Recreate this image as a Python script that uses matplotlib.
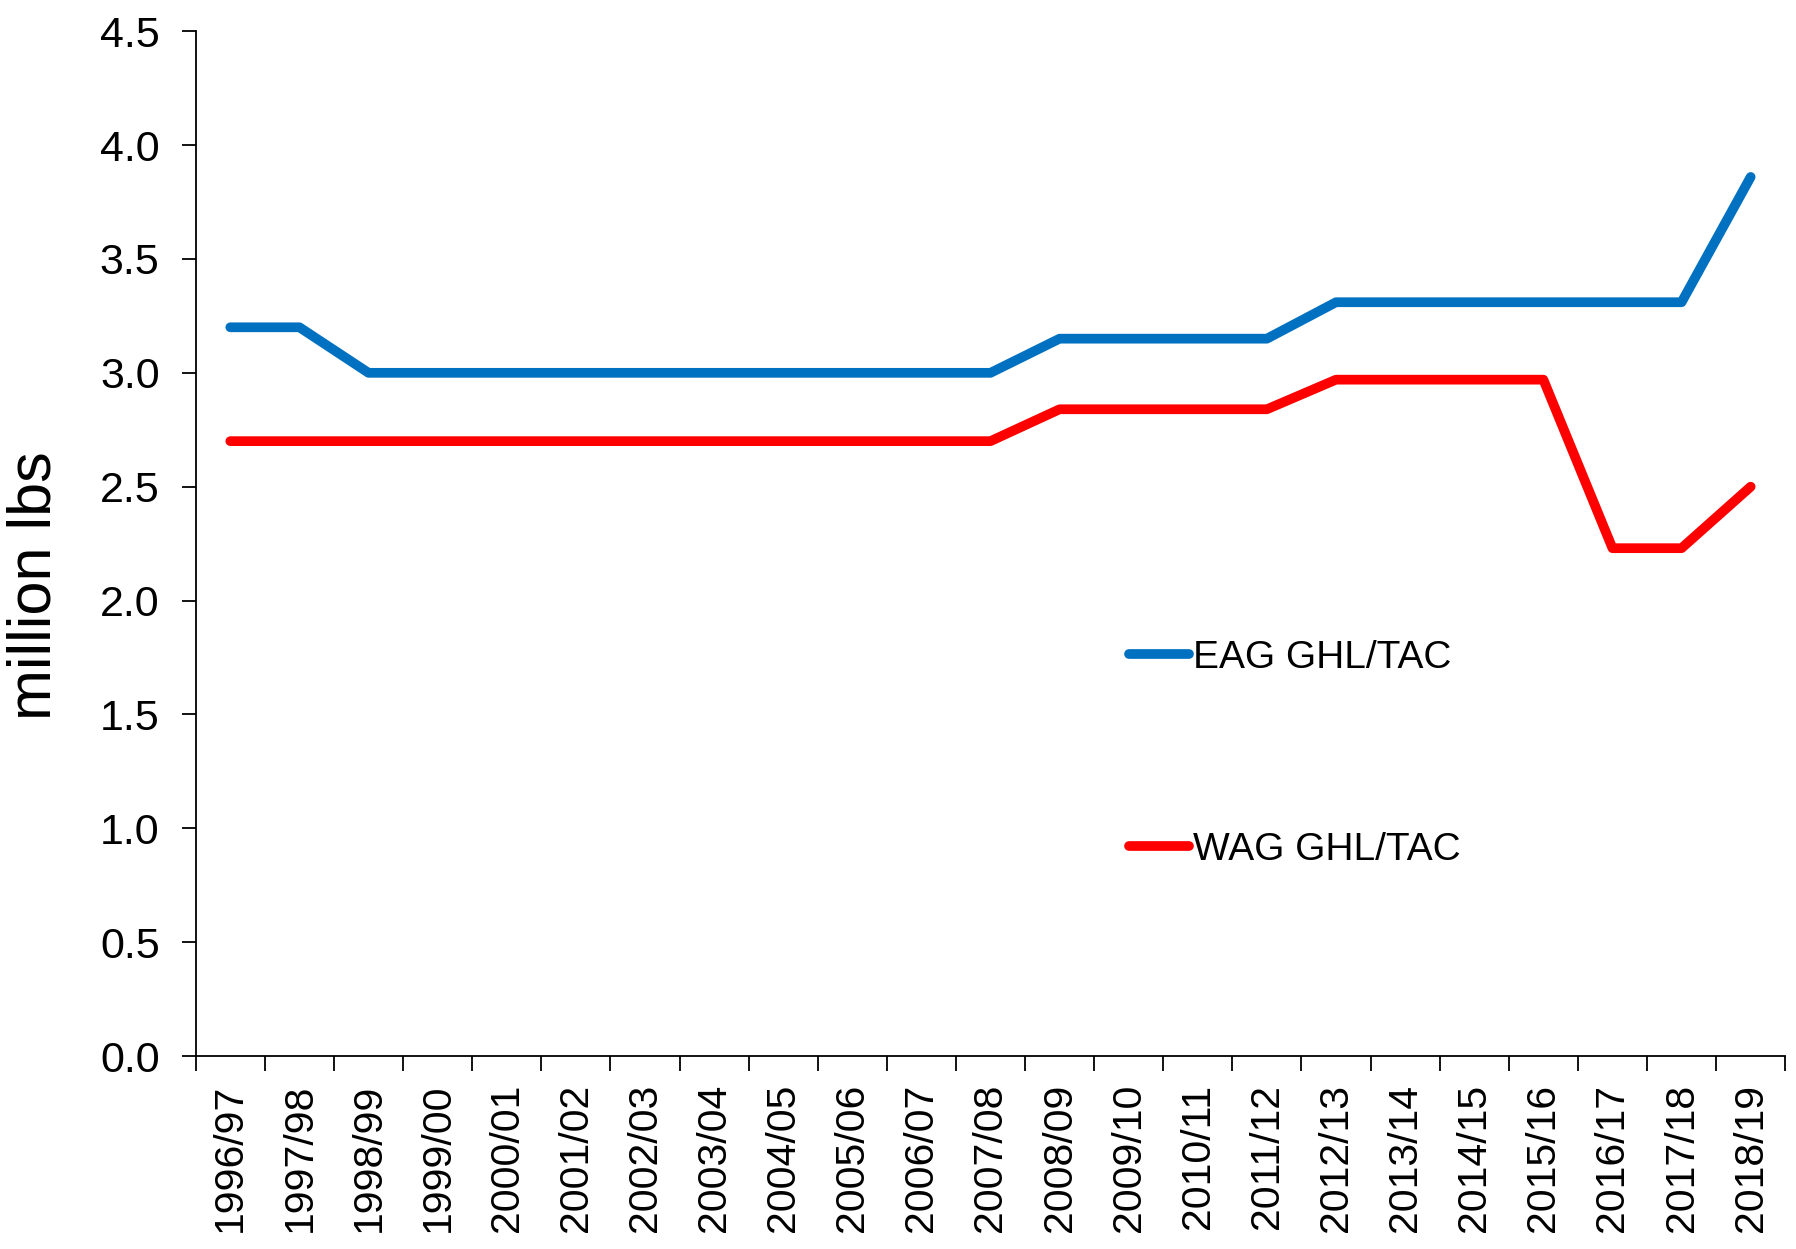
import matplotlib
matplotlib.use("Agg")
import matplotlib.pyplot as plt
import numpy as np

seasons = ["1996/97", "1997/98", "1998/99", "1999/00", "2000/01", "2001/02",
           "2002/03", "2003/04", "2004/05", "2005/06", "2006/07", "2007/08",
           "2008/09", "2009/10", "2010/11", "2011/12", "2012/13", "2013/14",
           "2014/15", "2015/16", "2016/17", "2017/18", "2018/19"]
eag = [3.2, 3.2, 3.0, 3.0, 3.0, 3.0, 3.0, 3.0, 3.0, 3.0, 3.0, 3.0,
       3.15, 3.15, 3.15, 3.15, 3.31, 3.31, 3.31, 3.31, 3.31, 3.31, 3.86]
wag = [2.7, 2.7, 2.7, 2.7, 2.7, 2.7, 2.7, 2.7, 2.7, 2.7, 2.7, 2.7,
       2.84, 2.84, 2.84, 2.84, 2.97, 2.97, 2.97, 2.97, 2.23, 2.23, 2.5]
yticks = [0.0, 0.5, 1.0, 1.5, 2.0, 2.5, 3.0, 3.5, 4.0, 4.5]

font = ["Liberation Sans", "DejaVu Sans"]

fig = plt.figure(figsize=(17.96, 12.49), dpi=100)
ax = fig.add_axes([0.109, 0.1545, 0.885, 0.8205])

x = np.arange(len(seasons))
ax.plot(x, eag, color="#0070C0", lw=7, solid_capstyle="round",
        solid_joinstyle="round", label="EAG GHL/TAC")
ax.plot(x, wag, color="#FF0000", lw=7, solid_capstyle="round",
        solid_joinstyle="round", label="WAG GHL/TAC")

ax.set_xlim(-0.5, len(seasons) - 0.5)
ax.set_ylim(0, 4.5)

# ticks sit between categories, labels at the centres
ax.set_xticks(np.arange(-0.5, len(seasons)))
ax.set_xticklabels([])
ax.set_xticks(x, minor=True)
ax.set_xticklabels(seasons, minor=True, rotation=90, fontsize=29.5, family=font)
ax.tick_params(axis="x", which="major", direction="out", length=11, width=1.3)
ax.tick_params(axis="x", which="minor", length=0, pad=20)

ax.set_yticks(yticks)
ax.set_yticklabels(["%.1f" % v for v in yticks], fontsize=31, family=font)
ax.tick_params(axis="y", direction="out", length=10, width=1.3, pad=16)

ax.set_ylabel("million lbs", fontsize=44, family=font)
ax.yaxis.set_label_coords(-0.083, 0.459)

for s in ["top", "right"]:
    ax.spines[s].set_visible(False)
for s in ["left", "bottom"]:
    ax.spines[s].set_linewidth(1.3)

ax.legend(loc="upper left", bbox_to_anchor=(0.587, 0.406), frameon=False,
          prop={"family": font, "size": 28}, handlelength=1.55,
          handletextpad=0.1, labelspacing=4.0, borderaxespad=0, borderpad=0)

fig.savefig("out.png", dpi=100)
